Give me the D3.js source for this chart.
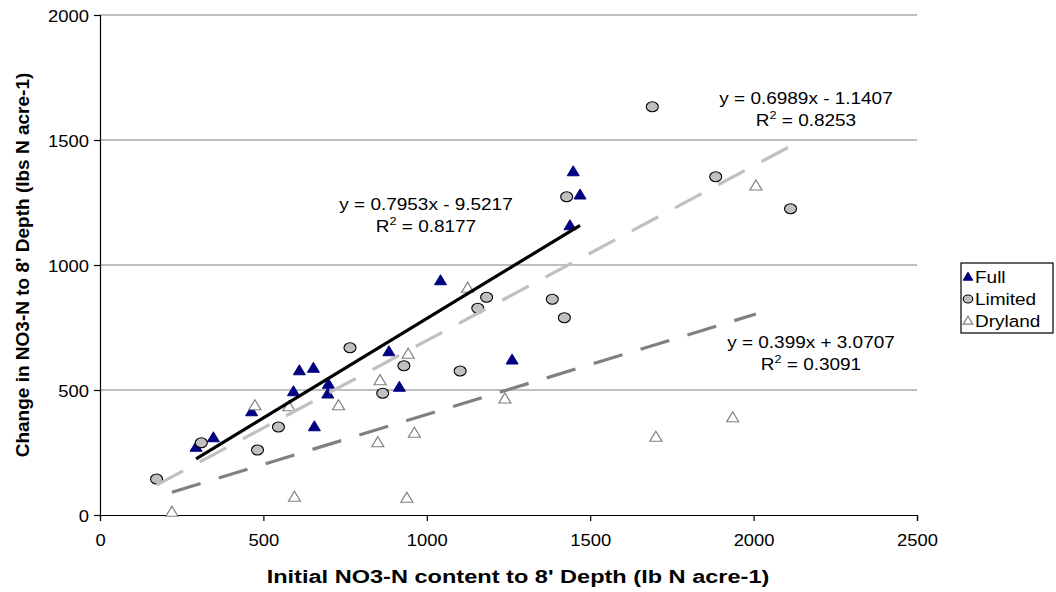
<!DOCTYPE html>
<html lang="en">
<head>
  <meta charset="UTF-8" />
  <title>Change in NO3-N vs Initial NO3-N</title>
  <script src="https://d3js.org/d3.v7.min.js"></script>
  <style>
    body {
      margin: 0;
      background-color: #ffffff;
    }
    svg {
      display: block;
      font-family: 'Liberation Sans', Arial, sans-serif;
    }
  </style>
</head>
<body>
  <svg width="1056" height="592"></svg>
  <script>
    // values
    const fullX = [294, 347, 464, 592, 610, 653, 656, 699, 697, 884, 916, 1042, 1261, 1448, 1469, 1438];
    const fullY = [271, 309, 413, 493, 577, 587, 353, 523, 484, 653, 511, 937, 620, 1373, 1280, 1157];

    const limitedX = [173, 310, 482, 546, 765, 865, 930, 1102, 1156, 1183, 1384, 1421, 1428, 1690, 1884, 2113];
    const limitedY = [144, 289, 260, 352, 669, 487, 597, 576, 827, 871, 863, 789, 1273, 1633, 1353, 1225];

    const drylandX = [220, 474, 578, 595, 730, 850, 857, 939, 943, 962, 1125, 1239, 1701, 1936, 2007];
    const drylandY = [11, 437, 433, 71, 437, 289, 537, 67, 643, 327, 907, 464, 311, 389, 1316];

    const seriesNames = ["Full", "Limited", "Dryland"];
    const slopes = [0.7953, 0.6989, 0.399];
    const intercepts = [-9.5217, -1.1407, 3.0707];
    const eqLabels = ["y = 0.7953x - 9.5217", "y = 0.6989x - 1.1407", "y = 0.399x + 3.0707"];
    const r2Labels = [" = 0.8177", " = 0.8253", " = 0.3091"];
    const xTicks = [0, 500, 1000, 1500, 2000, 2500];
    const yTicks = [0, 500, 1000, 1500, 2000];

    const S = 1.15; // the source picture is a bit wider than tall

    const svg = d3.select("svg");
    const x = d3.scaleLinear().domain([0, 2500]).range([100, 917]);
    const y = d3.scaleLinear().domain([0, 2000]).range([515, 15]);

    const series = [
      { name: "Full", xs: fullX, ys: fullY },
      { name: "Limited", xs: limitedX, ys: limitedY },
      { name: "Dryland", xs: drylandX, ys: drylandY }
    ];

    // grid
    svg.append("g")
      .selectAll("line")
      .data(yTicks.filter(d => d > 0))
      .enter().append("line")
      .attr("x1", x(0)).attr("x2", x(2500))
      .attr("y1", d => y(d)).attr("y2", d => y(d))
      .attr("stroke", "#808080")
      .attr("stroke-width", 1.2);

    // axes
    const xAxis = svg.append("g")
      .attr("transform", `translate(0,${y(0)})`)
      .call(d3.axisBottom(x).tickValues(xTicks).tickSize(6).tickFormat(d3.format("d")));
    const yAxis = svg.append("g")
      .attr("transform", `translate(${x(0)},0)`)
      .call(d3.axisLeft(y).tickValues(yTicks).tickSize(6).tickFormat(d3.format("d")));

    [xAxis, yAxis].forEach(a => {
      a.select(".domain").attr("stroke", "#000").attr("stroke-width", 1.2);
      a.selectAll(".tick line").attr("stroke", "#000").attr("stroke-width", 1.2);
      a.selectAll(".tick text")
        .attr("font-family", "'Liberation Sans', Arial, sans-serif")
        .attr("font-size", 16)
        .attr("fill", "#000");
    });
    xAxis.selectAll(".tick text")
      .attr("y", 0)
      .attr("dy", 0)
      .attr("transform", `translate(0,31) scale(${S},1)`);
    yAxis.selectAll(".tick text")
      .attr("x", 0)
      .attr("dy", 0)
      .attr("transform", `translate(-11,6) scale(${S},1)`);

    // markers
    function triangle(w, h) {
      return `M0,${-h * 0.6}L${w / 2},${h * 0.4}L${-w / 2},${h * 0.4}Z`;
    }
    function drawMarker(g, name, big) {
      const k = big ? 1 : 0.8;
      if (name === "Full") {
        g.append("path").attr("d", triangle(12 * k, 10 * k))
          .attr("fill", "#000080").attr("stroke", "#000080").attr("stroke-width", 1);
      } else if (name === "Limited") {
        g.append("ellipse").attr("rx", 6 * k).attr("ry", 5 * k)
          .attr("fill", "#c0c0c0").attr("stroke", "#000").attr("stroke-width", 1.1);
      } else {
        g.append("path").attr("d", triangle(12 * k, 10 * k))
          .attr("fill", "#fff").attr("stroke", "#808080").attr("stroke-width", 1.2);
      }
    }

    series.forEach(s => {
      const pts = s.xs.map((v, i) => [v, s.ys[i]]);
      svg.append("g").selectAll("g")
        .data(pts)
        .enter().append("g")
        .attr("transform", d => `translate(${x(d[0])},${y(d[1])})`)
        .each(function () { drawMarker(d3.select(this), s.name, true); });
    });

    // trendlines across each series' x range
    const trendStyle = [
      { color: "#000000", dash: null },
      { color: "#c0c0c0", dash: "30,19" },
      { color: "#808080", dash: "30,19" }
    ];
    series.forEach((s, i) => {
      const [x0, x1] = d3.extent(s.xs);
      const line = svg.append("line")
        .attr("x1", x(x0)).attr("y1", y(slopes[i] * x0 + intercepts[i]))
        .attr("x2", x(x1)).attr("y2", y(slopes[i] * x1 + intercepts[i]))
        .attr("stroke", trendStyle[i].color)
        .attr("stroke-width", 3.2);
      if (trendStyle[i].dash) line.attr("stroke-dasharray", trendStyle[i].dash);
    });

    // equation labels
    const eqPos = [[426, 210], [806, 104], [811, 348]];
    eqLabels.forEach((t, i) => {
      const g = svg.append("g")
        .attr("transform", `translate(${eqPos[i][0]},${eqPos[i][1]}) scale(${S},1)`)
        .attr("font-size", 16.5)
        .attr("text-anchor", "middle");
      g.append("text").text(t);
      const r = g.append("text").attr("y", 22.5);
      r.append("tspan").text("R");
      r.append("tspan").attr("font-size", 11).attr("dy", -7).text("2");
      r.append("tspan").attr("dy", 7).text(r2Labels[i]);
    });

    // legend
    const legend = svg.append("g");
    legend.append("rect")
      .attr("x", 961).attr("y", 263).attr("width", 92).attr("height", 70)
      .attr("fill", "#fff").attr("stroke", "#000").attr("stroke-width", 1.2);
    seriesNames.forEach((n, i) => {
      const ly = 277 + i * 22;
      const m = legend.append("g").attr("transform", `translate(968,${ly})`);
      drawMarker(m, n, false);
      legend.append("text")
        .attr("transform", `translate(975,${ly + 6}) scale(${S},1)`)
        .attr("font-size", 16.5)
        .text(n);
    });

    // axis titles
    svg.append("text")
      .attr("transform", "translate(518,583) scale(1.24,1)")
      .attr("text-anchor", "middle")
      .attr("font-size", 19)
      .attr("font-weight", "bold")
      .text("Initial NO3-N content to 8' Depth (lb N acre-1)");

    svg.append("text")
      .attr("transform", "translate(29,265) rotate(-90)")
      .attr("text-anchor", "middle")
      .attr("font-size", 19)
      .attr("font-weight", "bold")
      .text("Change in NO3-N to 8' Depth (lbs N acre-1)");
  </script>
</body>
</html>
